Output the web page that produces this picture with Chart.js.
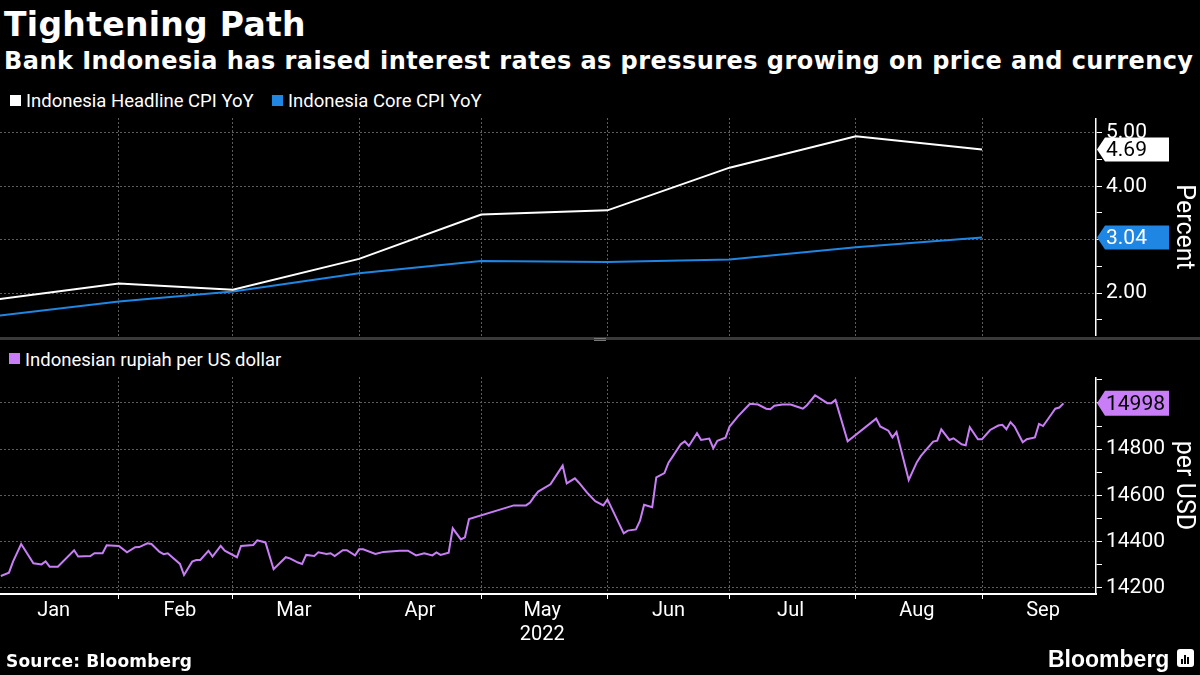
<!DOCTYPE html>
<html>
<head>
<meta charset="utf-8">
<script src="https://cdn.jsdelivr.net/npm/chart.js@4.4.0/dist/chart.umd.min.js"></script>
<style>
  body { margin: 0; width: 1200px; height: 675px; background: #000; overflow: hidden; position: relative; color: #fff; }
  .abs { position: absolute; white-space: nowrap; }
  #title { left: 4px; top: 8px; font: bold 33px/33px 'DejaVu Sans'; letter-spacing: 0.3px; }
  #subtitle { left: 4px; top: 49px; font: bold 24px/24px 'DejaVu Sans'; letter-spacing: 0.45px; }
  .leg { font: 18.5px/18px Roboto; color: #fff; }
  .sq { width: 11px; height: 11px; }
  #sep { left: 0; top: 337px; width: 1200px; height: 3px; background: #3a3a3a; }
  #grip { left: 594px; top: 338px; width: 12px; height: 1px; border-top: 1px solid #777; border-bottom: 1px solid #777; }
  #source { left: 6px; top: 653px; font: bold 17px/17px 'DejaVu Sans'; letter-spacing: 0.2px; }
  #brand { left: 1048px; top: 648px; font: bold 23px/23px 'Liberation Sans'; }
  #logo { left: 1177px; top: 649px; width: 17px; height: 18px; background: #fff; border-radius: 3px; }
  #logo i { position: absolute; bottom: 3px; width: 2px; background: #000; }
  canvas { position: absolute; left: 0; }
</style>
</head>
<body>
<div id="title" class="abs">Tightening Path</div>
<div id="subtitle" class="abs">Bank Indonesia has raised interest rates as pressures growing on price and currency</div>

<div class="abs sq" style="left:10px;top:95px;background:#fff"></div>
<div class="abs leg" style="left:26px;top:92px">Indonesia Headline CPI YoY</div>
<div class="abs sq" style="left:272px;top:95px;background:#1f86e3"></div>
<div class="abs leg" style="left:288px;top:92px">Indonesia Core CPI YoY</div>

<canvas id="cpiChart" width="1200" height="218" style="top:118px"></canvas>

<div id="sep" class="abs"></div>
<div id="grip" class="abs"></div>

<div class="abs sq" style="left:9px;top:353px;background:#c97ef7"></div>
<div class="abs leg" style="left:25px;top:351px">Indonesian rupiah per US dollar</div>

<canvas id="fxChart" width="1200" height="287" style="top:377px"></canvas>

<div id="source" class="abs">Source: Bloomberg</div>
<div id="brand" class="abs">Bloomberg</div>
<div id="logo" class="abs"><i style="left:4px;height:5px"></i><i style="left:7px;height:9px"></i><i style="left:10px;height:7px"></i></div>

<script>
// month starts, as day numbers counted from Jan 1 2022
var monthStarts = [0, 31, 59, 90, 120, 151, 181, 212, 243];
var monthNames = ['Jan', 'Feb', 'Mar', 'Apr', 'May', 'Jun', 'Jul', 'Aug', 'Sep'];
var yearLabel = '2022';

// monthly CPI, plotted at the start of the following month
var cpiDays = [0, 31, 59, 90, 120, 151, 181, 212, 243];
var headlineCpi = [1.87, 2.18, 2.06, 2.64, 3.47, 3.55, 4.35, 4.94, 4.69];
var coreCpi = [1.56, 1.84, 2.03, 2.37, 2.60, 2.58, 2.63, 2.86, 3.04];
var cpiTicks = [1.5, 2, 2.5, 3, 3.5, 4, 4.5, 5];

// USD/IDR
var rupiahDays = [2, 4, 5, 7, 10, 12, 13, 14, 16, 20, 21, 24, 25, 27, 28, 31, 33, 35, 36, 38, 39, 41, 42, 43, 46, 47, 49, 50, 51, 53,
  54, 56, 57, 60, 61, 64, 65, 67, 69, 72, 73, 75, 76, 77, 79, 80, 82, 83, 84, 86, 87, 89, 90, 91, 94, 96, 100, 102, 104, 106,
  108, 109, 110, 112, 113, 115, 116, 117, 128, 131,
  132, 133, 134, 137, 140, 141, 143, 144, 146, 148, 150, 151, 155, 156, 158, 159, 160, 162, 163, 165, 166, 167, 169, 170, 171,
  173, 174, 176, 177, 178, 180, 181, 183, 185, 186, 188, 190, 191, 192, 194, 196, 198, 199, 200, 202, 203, 205, 206, 207, 210,
  217, 218, 220, 221, 222, 225, 227, 228, 231, 232, 233, 235, 236, 238, 239, 240, 242, 243, 245, 247, 248, 249, 250, 251, 253,
  254, 256, 257, 258, 260, 261, 262, 263];
var rupiahValues = [14252, 14266, 14314, 14390, 14307, 14302, 14315, 14292, 14292, 14363, 14336, 14338, 14350, 14350, 14385,
  14382, 14354, 14376, 14377, 14393, 14390, 14356, 14346, 14350, 14304, 14256, 14314, 14321, 14321, 14361,
  14336, 14382, 14361, 14333, 14382, 14386, 14406, 14397, 14281, 14333, 14328, 14310, 14304, 14343, 14338,
  14354, 14347, 14350, 14338, 14363, 14363, 14341, 14367, 14367, 14347, 14356, 14361, 14361, 14341, 14350,
  14341, 14354, 14343, 14353, 14458, 14410, 14419, 14498, 14557, 14557,
  14569, 14595, 14617, 14648, 14729, 14652, 14674, 14655, 14612, 14575, 14557, 14583, 14436, 14448, 14453,
  14491, 14560, 14549, 14678, 14697, 14742, 14768, 14821, 14834, 14814, 14869, 14840, 14846, 14804, 14836,
  14850, 14898, 14941, 14978, 14996, 14993, 14975, 14973, 14988, 14993, 14993, 14981, 14975, 14990, 15033,
  15022, 14999, 14999, 15013, 14834, 14932, 14898, 14880, 14851, 14874, 14667, 14744, 14771, 14833, 14837,
  14886, 14840, 14847, 14821, 14817, 14895, 14843, 14843, 14883, 14902, 14905, 14886, 14917, 14898, 14830,
  14843, 14851, 14909, 14900, 14950, 14975, 14980, 14998];
var fxTicks = [14200, 14300, 14400, 14500, 14600, 14700, 14800, 14900, 15000, 15100];

var GRID = '#5c5c5c';
var tickFont = { family: 'Roboto', size: 21 };

function points(xs, ys) {
  return xs.map(function (x, i) { return { x: x, y: ys[i] }; });
}

// box with an arrow on the axis, showing the last value of a series
var lastValueTags = {
  id: 'lastValueTags',
  afterDraw: function (chart, args, opts) {
    var ctx = chart.ctx;
    var x0 = chart.chartArea.right + 1;
    opts.tags.forEach(function (tag) {
      var data = chart.data.datasets[tag.dataset].data;
      var last = data[data.length - 1].y;
      var y = chart.scales.y.getPixelForValue(last);
      var h = tag.h, w = 72;
      ctx.save();
      ctx.fillStyle = tag.bg;
      ctx.beginPath();
      ctx.moveTo(x0, y);
      ctx.lineTo(x0 + 8, y - h / 2);
      ctx.lineTo(x0 + w, y - h / 2);
      ctx.lineTo(x0 + w, y + h / 2);
      ctx.lineTo(x0 + 8, y + h / 2);
      ctx.closePath();
      ctx.fill();
      ctx.fillStyle = tag.fg;
      ctx.font = '21px Roboto';
      ctx.textAlign = 'left';
      ctx.textBaseline = 'middle';
      ctx.fillText(tag.fmt(last), x0 + 9, y + 1);
      ctx.restore();
    });
  }
};

function monthAxis(withLabels) {
  return {
    type: 'linear',
    min: 1.8,
    max: 271,
    afterBuildTicks: function (s) { s.ticks = monthStarts.map(function (v) { return { value: v }; }); },
    afterFit: function (s) { s.paddingLeft = 0; s.paddingRight = 0; s.height = withLabels ? 70 : 0; },
    grid: { color: GRID, lineWidth: 1, tickColor: '#fff', tickLength: 5, drawTicks: withLabels },
    border: { display: withLabels, color: '#fff', width: 2, dash: [2, 2] },
    ticks: {
      display: withLabels,
      autoSkip: false,
      maxRotation: 0,
      minRotation: 0,
      labelOffset: 61,
      padding: 0,
      color: '#fff',
      font: { family: 'Roboto', size: 20 },
      callback: function (v, i) { return i === 4 ? [monthNames[i], yearLabel] : monthNames[i]; }
    }
  };
}

function valueAxis(min, max, ticks, isMajor, fmt, title) {
  return {
    position: 'right',
    min: min,
    max: max,
    afterBuildTicks: function (s) { s.ticks = ticks.map(function (v) { return { value: v }; }); },
    afterFit: function (s) { s.width = 104; s.paddingTop = 0; s.paddingBottom = 0; },
    grid: {
      color: function (c) { return c.tick && isMajor(c.tick.value) ? GRID : 'rgba(0,0,0,0)'; },
      tickColor: '#fff',
      tickLength: 6
    },
    border: { color: '#fff', width: 1.5, dash: [2, 2] },
    ticks: {
      autoSkip: false,
      color: '#fff',
      padding: 4,
      font: tickFont,
      callback: function (v) { return isMajor(v) ? fmt(v) : ''; }
    },
    title: { display: true, text: title, color: '#fff', font: { family: 'Roboto', size: 25 }, padding: { top: 2, bottom: 0 } }
  };
}

var common = {
  responsive: false,
  animation: false,
  events: [],
  devicePixelRatio: 1,
  layout: { padding: 0 },
  plugins: { legend: { display: false }, tooltip: { enabled: false } },
  elements: { point: { radius: 0 }, line: { tension: 0, borderWidth: 2 } }
};

new Chart(document.getElementById('cpiChart').getContext('2d'), {
  type: 'line',
  data: {
    datasets: [
      { label: 'Indonesia Headline CPI YoY', data: points(cpiDays, headlineCpi), borderColor: '#ffffff' },
      { label: 'Indonesia Core CPI YoY', data: points(cpiDays, coreCpi), borderColor: '#1f86e3' }
    ]
  },
  options: Object.assign({}, common, {
    scales: {
      x: monthAxis(false),
      y: valueAxis(1.194, 5.281, cpiTicks,
        function (v) { return Math.abs(v % 1) < 1e-9; },
        function (v) { return v.toFixed(2); }, 'Percent')
    },
    plugins: Object.assign({}, common.plugins, {
      lastValueTags: {
        tags: [
          { dataset: 0, bg: '#ffffff', fg: '#000000', h: 24, fmt: function (v) { return v.toFixed(2); } },
          { dataset: 1, bg: '#1f86e3', fg: '#ffffff', h: 24, fmt: function (v) { return v.toFixed(2); } }
        ]
      }
    })
  }),
  plugins: [lastValueTags]
});

new Chart(document.getElementById('fxChart').getContext('2d'), {
  type: 'line',
  data: {
    datasets: [
      { label: 'Indonesian rupiah per US dollar', data: points(rupiahDays, rupiahValues), borderColor: '#c97ef7' }
    ]
  },
  options: Object.assign({}, common, {
    scales: {
      x: monthAxis(true),
      y: valueAxis(14174, 15112, fxTicks,
        function (v) { return v % 200 === 0; },
        function (v) { return String(v); }, 'per USD')
    },
    plugins: Object.assign({}, common.plugins, {
      lastValueTags: {
        tags: [
          { dataset: 0, bg: '#c97ef7', fg: '#000000', h: 25, fmt: function (v) { return String(v); } }
        ]
      }
    })
  }),
  plugins: [lastValueTags]
});
</script>
</body>
</html>
